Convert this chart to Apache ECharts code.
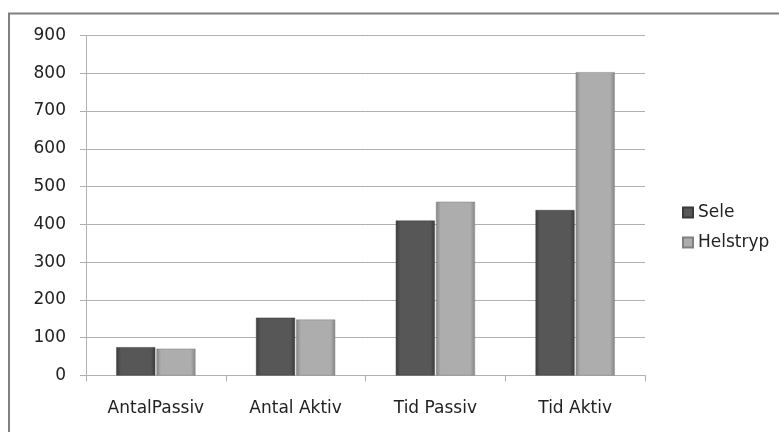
<!DOCTYPE html>
<html>
<head>
<meta charset="utf-8">
<script src="https://cdn.jsdelivr.net/npm/echarts@6/dist/echarts.min.js"></script>
<style>
  html, body { margin: 0; padding: 0; background: #fff; }
  #chart { width: 779px; height: 432px; }
</style>
</head>
<body>
<div id="chart"></div>
<script>
const categories = ['AntalPassiv', 'Antal Aktiv', 'Tid Passiv', 'Tid Aktiv'];
const seleValues = [75, 153, 410, 438];
const helstrypValues = [71, 148, 460, 803];
const seriesNames = ['Sele', 'Helstryp'];

const chart = echarts.init(document.getElementById('chart'), null, { renderer: 'canvas' });

// horizontal gradient to fake the bevelled bar look
const bevel = (edge, mid) => ({
  type: 'linear', x: 0, y: 0, x2: 1, y2: 0,
  colorStops: [
    { offset: 0, color: edge },
    { offset: 0.12, color: mid },
    { offset: 0.88, color: mid },
    { offset: 1, color: edge },
  ],
});

const option = {
  animation: false,
  textStyle: { fontFamily: 'DejaVu Sans' },
  // the picture is cropped: only the top and left frame edges show
  graphic: [
    {
      type: 'line',
      shape: { x1: 8, y1: 13.5, x2: 779, y2: 13.5 },
      style: { stroke: '#808080', lineWidth: 2 },
      silent: true,
    },
    {
      type: 'line',
      shape: { x1: 9, y1: 13, x2: 9, y2: 432 },
      style: { stroke: '#808080', lineWidth: 2 },
      silent: true,
    },
  ],
  grid: { left: 86, right: 134, top: 35.5, bottom: 56.5 },
  legend: {
    orient: 'vertical',
    left: 677,
    top: 199,
    itemWidth: 10,
    itemHeight: 10,
    itemGap: 13,
    icon: 'rect',
    textStyle: { fontSize: 17, color: '#222', fontFamily: 'DejaVu Sans' },
    data: seriesNames,
  },
  xAxis: {
    type: 'category',
    data: categories,
    axisLine: { lineStyle: { color: '#b0b0b0', width: 1 } },
    axisTick: { show: true, length: 6, lineStyle: { color: '#b0b0b0' } },
    axisLabel: { fontSize: 17, color: '#222', margin: 25 },
  },
  yAxis: {
    type: 'value',
    min: 0,
    max: 900,
    interval: 100,
    axisLine: { show: true, lineStyle: { color: '#b0b0b0', width: 1 } },
    axisTick: { show: true, length: 6, lineStyle: { color: '#b0b0b0' } },
    axisLabel: { fontSize: 17, color: '#222', margin: 20 },
    splitLine: { lineStyle: { color: '#b0b0b0', width: 1 } },
  },
  series: [
    {
      name: seriesNames[0],
      type: 'bar',
      data: seleValues,
      barWidth: 39,
      barGap: '3%',
      itemStyle: { color: bevel('#3c3c3c', '#575757'), borderColor: '#3a3a3a', borderWidth: 0.5 },
    },
    {
      name: seriesNames[1],
      type: 'bar',
      data: helstrypValues,
      barWidth: 39,
      itemStyle: { color: bevel('#868686', '#adadad'), borderColor: '#808080', borderWidth: 0.5 },
    },
  ],
};

chart.setOption(option);
</script>
</body>
</html>
